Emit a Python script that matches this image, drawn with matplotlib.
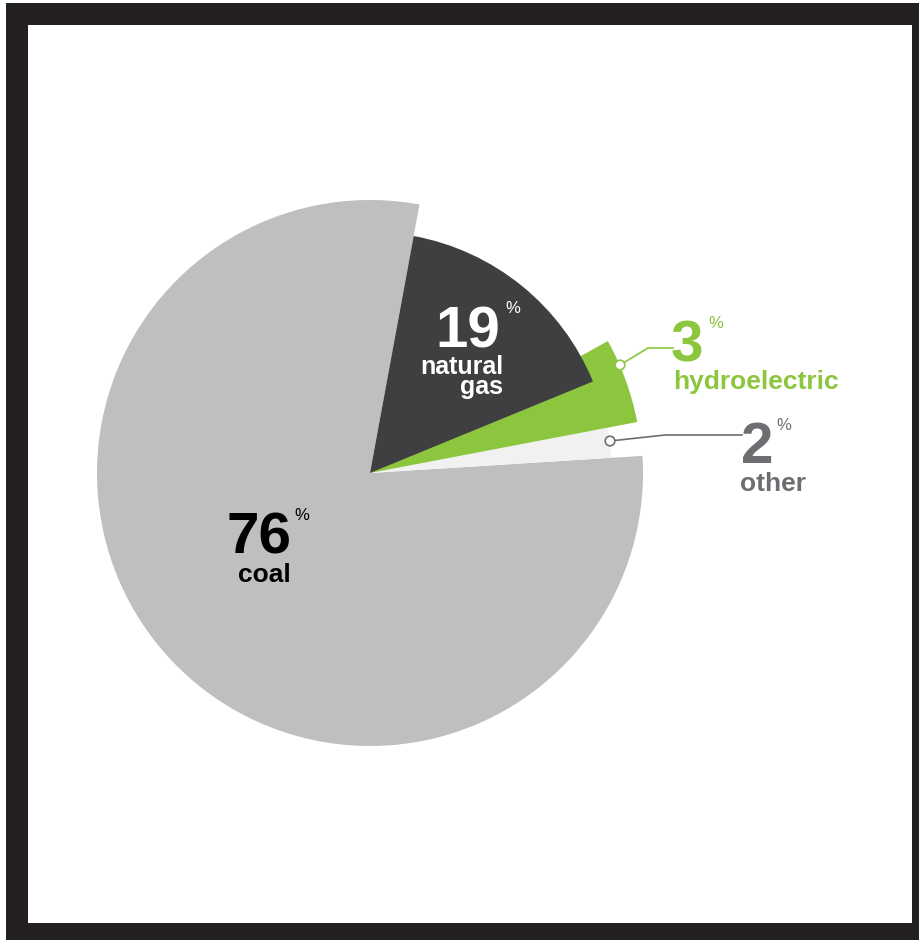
import numpy as np
from matplotlib import pyplot as plt
from matplotlib.patches import Rectangle, Circle

# Data
categories = ["coal", "natural\ngas", "hydroelectric", "other"]
percent_labels = ["76", "19", "3", "2"]
# wedge shares as drawn in the picture
slice_shares = [78.9, 15.9, 3.2, 2.0]

colors = ["#bebfbe", "#3f3f41", "#8cc63f", "#f1f1f1"]
radii = [273, 241, 272, 242]
W, H = 920, 940


def Y(y):
    # pixel row (top-down) -> data y (bottom-up)
    return H - y


fig = plt.figure(figsize=(9.2, 9.4), dpi=100)
ax = fig.add_axes([0, 0, 1, 1])

# frame
ax.add_patch(Rectangle((6.5, 0), W - 6.5, Y(3), facecolor="#231f20", edgecolor="none", zorder=0))
ax.add_patch(Rectangle((28, Y(923)), 912 - 28, 923 - 25, facecolor="white", edgecolor="none", zorder=0.1))

wedges, _ = ax.pie(slice_shares, colors=colors, radius=273, center=(370, Y(473)),
                   startangle=3.6, counterclock=False, wedgeprops={"linewidth": 0})

for w, r in zip(wedges, radii):
    w.set_radius(r)
    w.set_zorder(1)

# hydro wedge tucks under the gas wedge
wedges[1].set_zorder(2)
wedges[2].set_theta2(wedges[2].theta2 + 6.7)
wedges[2].set_zorder(1.5)

font = "Liberation Sans"
big = 42
word = 19
pct = 12

# coal
ax.text(292, Y(553), percent_labels[0], fontsize=big, fontweight="bold", color="black",
        ha="right", va="baseline", family=font, zorder=5)
ax.text(294, Y(508), "%", fontsize=pct, color="black", ha="left", va="top", family=font, zorder=5)
ax.text(291, Y(582), categories[0], fontsize=word, fontweight="bold", color="black",
        ha="right", va="baseline", family=font, zorder=5)

# natural gas
ax.text(500, Y(348), percent_labels[1], fontsize=big, fontweight="bold", color="white",
        ha="right", va="baseline", family=font, zorder=5)
ax.text(505, Y(301), "%", fontsize=pct, color="white", ha="left", va="top", family=font, zorder=5)
ax.text(503, Y(355), categories[1], fontsize=18, fontweight="bold", color="white",
        ha="right", va="top", multialignment="right", linespacing=0.78,
        family=font, zorder=5)

# hydroelectric
green = "#8cc63f"
ax.text(671, Y(361), percent_labels[2], fontsize=big, fontweight="bold", color=green,
        ha="left", va="baseline", family=font, zorder=5)
ax.text(708, Y(316), "%", fontsize=pct, color=green, ha="left", va="top", family=font, zorder=5)
ax.text(673, Y(389), categories[2], fontsize=word, fontweight="bold", color=green,
        ha="left", va="baseline", family=font, zorder=5)
ax.plot([620, 648, 673], [Y(365), Y(348), Y(348)], color=green, lw=1.2, zorder=4)
ax.add_patch(Circle((620, Y(365)), 4.8, facecolor="white", edgecolor=green, lw=1.2, zorder=4.5))

# other
grey = "#6d6e71"
ax.text(741, Y(463), percent_labels[3], fontsize=big, fontweight="bold", color=grey,
        ha="left", va="baseline", family=font, zorder=5)
ax.text(776, Y(418), "%", fontsize=pct, color=grey, ha="left", va="top", family=font, zorder=5)
ax.text(740, Y(491), categories[3], fontsize=word, fontweight="bold", color=grey,
        ha="left", va="baseline", family=font, zorder=5)
ax.plot([610, 665, 742], [Y(441), Y(435), Y(435)], color=grey, lw=1.2, zorder=4)
ax.add_patch(Circle((610, Y(441)), 4.8, facecolor="white", edgecolor=grey, lw=1.2, zorder=4.5))

ax.set_xlim(0, W)
ax.set_ylim(0, H)
ax.set_aspect("equal")
ax.axis("off")

fig.savefig("out.png", dpi=100)
